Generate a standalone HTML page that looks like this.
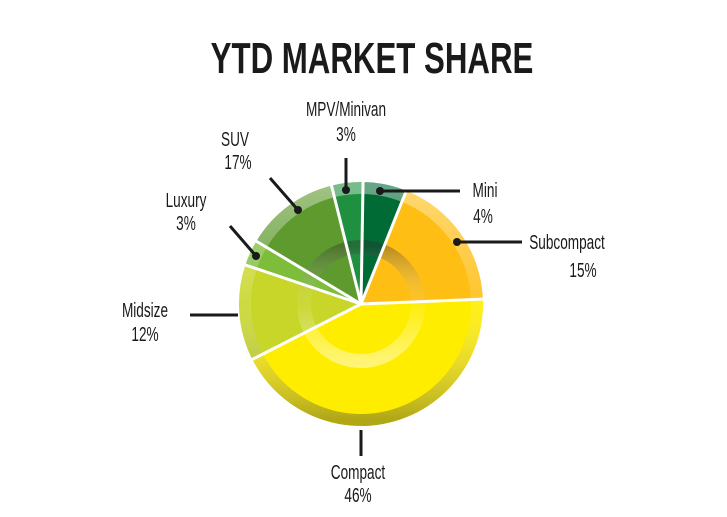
<!DOCTYPE html>
<html><head><meta charset="utf-8"><style>
html,body{margin:0;padding:0;background:#fff;}
svg{display:block;}
text{font-family:"Liberation Sans",sans-serif;fill:#1a1a1a;}
</style></head><body>
<svg width="727" height="517" viewBox="0 0 727 517" xmlns="http://www.w3.org/2000/svg">
<defs>
<linearGradient id="outer" x1="0" y1="0" x2="0" y2="1">
<stop offset="0" stop-color="#ffffff" stop-opacity="0.4"/>
<stop offset="0.5" stop-color="#ffffff" stop-opacity="0.1"/>
<stop offset="1" stop-color="#505030" stop-opacity="0.45"/>
</linearGradient>
<linearGradient id="inner" x1="0" y1="0" x2="0" y2="1">
<stop offset="0" stop-color="#303030" stop-opacity="0.35"/>
<stop offset="0.5" stop-color="#ffffff" stop-opacity="0.05"/>
<stop offset="1" stop-color="#ffffff" stop-opacity="0.45"/>
</linearGradient>
</defs>
<text transform="translate(372,73) scale(0.71,1)" text-anchor="middle" font-size="44" font-weight="bold">YTD MARKET SHARE</text>
<g>
<path d="M361,304 L363.1,182.0 A122,122 0 0 1 406.3,190.7 Z" fill="#006b35"/>
<path d="M361,304 L406.3,190.7 A122,122 0 0 1 482.9,299.1 Z" fill="#ffbe14"/>
<path d="M361,304 L482.9,299.1 A122,122 0 0 1 252.3,359.4 Z" fill="#ffed00"/>
<path d="M361,304 L252.3,359.4 A122,122 0 0 1 245.4,264.9 Z" fill="#c8d62a"/>
<path d="M361,304 L245.4,264.9 A122,122 0 0 1 256.4,241.2 Z" fill="#7dbd3a"/>
<path d="M361,304 L256.4,241.2 A122,122 0 0 1 331.5,185.6 Z" fill="#5e9a2e"/>
<path d="M361,304 L331.5,185.6 A122,122 0 0 1 363.1,182.0 Z" fill="#1f9040"/>
<circle cx="361" cy="304" r="116" fill="none" stroke="url(#outer)" stroke-width="12"/>
<circle cx="361" cy="304" r="57" fill="none" stroke="url(#inner)" stroke-width="14"/>
<g stroke="#fff" stroke-width="3">
<line x1="361" y1="304" x2="363.1" y2="180"/>
<line x1="361" y1="304" x2="407" y2="189"/>
<line x1="361" y1="304" x2="485" y2="299"/>
<line x1="361" y1="304" x2="250.5" y2="360.3"/>
<line x1="361" y1="304" x2="243.5" y2="264.3"/>
<line x1="361" y1="304" x2="254.6" y2="240.1"/>
<line x1="361" y1="304" x2="331" y2="183.6"/>
</g>
</g>
<g stroke="#1a1a1a" stroke-width="3" fill="none">
<line x1="346" y1="158" x2="346" y2="190"/>
<line x1="270" y1="178" x2="298" y2="210"/>
<line x1="230" y1="226" x2="256" y2="256"/>
<line x1="190" y1="315" x2="238" y2="315"/>
<line x1="361" y1="430" x2="361" y2="456"/>
<line x1="380" y1="191" x2="460" y2="191"/>
<line x1="457" y1="242" x2="522" y2="242"/>
</g>
<g fill="#1a1a1a">
<circle cx="346" cy="190" r="4"/><circle cx="298" cy="210" r="4"/><circle cx="256" cy="256" r="4"/>
<circle cx="380" cy="191" r="4"/><circle cx="457" cy="242" r="4"/>
</g>
<g font-size="20" text-anchor="middle">
<text transform="translate(346,116) scale(0.68,1)">MPV/Minivan</text><text transform="translate(346,141) scale(0.68,1)">3%</text>
<text transform="translate(235,146) scale(0.68,1)">SUV</text><text transform="translate(238,169) scale(0.68,1)">17%</text>
<text transform="translate(186,207) scale(0.68,1)">Luxury</text><text transform="translate(186,230) scale(0.68,1)">3%</text>
<text transform="translate(145,317) scale(0.68,1)">Midsize</text><text transform="translate(145,341) scale(0.68,1)">12%</text>
<text transform="translate(358,479) scale(0.68,1)">Compact</text><text transform="translate(358,502) scale(0.68,1)">46%</text>
<text transform="translate(485,197) scale(0.68,1)">Mini</text><text transform="translate(483,223) scale(0.68,1)">4%</text>
<text transform="translate(567,249) scale(0.68,1)">Subcompact</text><text transform="translate(583,277) scale(0.68,1)">15%</text>
</g>
</svg>
</body></html>
